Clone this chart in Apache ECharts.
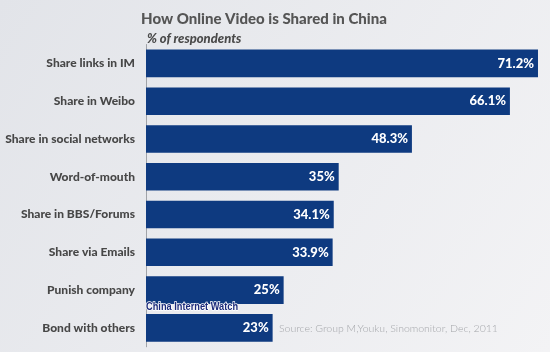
<!DOCTYPE html>
<html>
<head>
<meta charset="utf-8">
<script src="https://cdn.jsdelivr.net/npm/echarts@6/dist/echarts.min.js"></script>
<style>
  html, body { margin: 0; padding: 0; }
  #chart { width: 550px; height: 352px; }
</style>
</head>
<body>
<div id="chart"></div>
<script>
  // share of respondents, top to bottom
  const categories = [
    'Share links in IM',
    'Share in Weibo',
    'Share in social networks',
    'Word-of-mouth',
    'Share in BBS/Forums',
    'Share via Emails',
    'Punish company',
    'Bond with others',
  ];
  const values = [71.2, 66.1, 48.3, 35, 34.1, 33.9, 25, 23];

  const chart = echarts.init(document.getElementById('chart'));
  chart.setOption({
    backgroundColor: {
      type: 'linear', x: 0, y: 0, x2: 1, y2: 1,
      colorStops: [
        { offset: 0, color: '#e2e4e9' },
        { offset: 1, color: '#f3f3f5' },
      ],
    },
    title: {
      text: 'How Online Video is Shared in China',
      left: 259,
      top: 7,
      textAlign: 'center',
      textStyle: {
        fontFamily: 'Lato',
        fontWeight: 900,
        fontSize: 15,
        color: '#555555',
      },
    },
    grid: {
      left: 146,
      right: 7.6,
      top: 44.5,
      bottom: 5.2,
      containLabel: false,
    },
    xAxis: {
      type: 'value',
      min: 0,
      max: 72,
      show: false,
    },
    yAxis: {
      type: 'category',
      inverse: true,
      data: categories,
      axisTick: { show: false },
      axisLine: { show: true, lineStyle: { color: '#a0a3a8', width: 1 } },
      axisLabel: {
        margin: 11,
        fontFamily: 'Lato',
        fontWeight: 900,
        fontSize: 12,
        color: '#474747',
      },
    },
    series: [
      {
        type: 'bar',
        data: values,
        barCategoryGap: '27%',
        itemStyle: { color: '#0e3a80' },
        label: {
          show: true,
          position: 'insideRight',
          offset: [1, 0],
          formatter: (p) => p.value + '%',
          fontFamily: 'Lato',
          fontWeight: 900,
          fontSize: 13,
          color: '#ffffff',
        },
      },
    ],
    graphic: [
      {
        type: 'text',
        left: 147,
        top: 32,
        style: {
          text: '% of respondents',
          font: 'italic 900 13px Lato',
          fill: '#4a4a4a',
        },
      },
      {
        type: 'text',
        x: 146,
        y: 301,
        scaleX: 0.84,
        style: {
          text: 'China Internet Watch',
          font: 'bold 11px "Liberation Sans"',
          fill: '#1b2a7a',
          stroke: '#ffffff',
          lineWidth: 1.5,
        },
        z: 10,
      },
      {
        type: 'text',
        left: 279,
        top: 323,
        style: {
          text: 'Source: Group M,Youku, Sinomonitor, Dec, 2011',
          font: '300 10.5px Lato',
          fill: '#a4a6aa',
        },
      },
    ],
  });
</script>
</body>
</html>
